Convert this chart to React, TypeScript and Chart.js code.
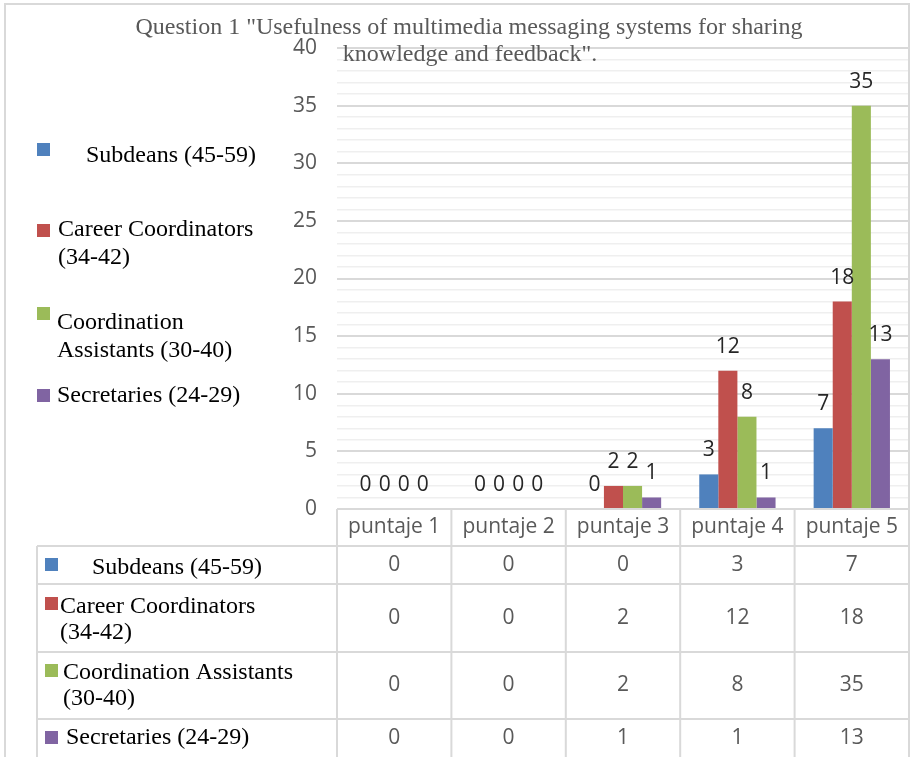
import { useEffect, useRef } from "react";
import { Chart, registerables } from "chart.js";

Chart.register(...registerables);

// Survey scores, grouped by respondent type
const categories = ["puntaje 1", "puntaje 2", "puntaje 3", "puntaje 4", "puntaje 5"];
const subdeans = [0, 0, 0, 3, 7];
const careerCoordinators = [0, 0, 2, 12, 18];
const coordinationAssistants = [0, 0, 2, 8, 35];
const secretaries = [0, 0, 1, 1, 13];

const seriesColors = ["#4f81bd", "#c0504d", "#9bbb59", "#8064a2"];
const legendLabels = [
  ["Subdeans (45-59)"],
  ["Career Coordinators", "(34-42)"],
  ["Coordination", "Assistants (30-40)"],
  ["Secretaries (24-29)"],
];
const tableLabels = [
  ["Subdeans (45-59)"],
  ["Career Coordinators", "(34-42)"],
  ["Coordination Assistants", "(30-40)"],
  ["Secretaries (24-29)"],
];
const titleLines = [
  'Question 1 "Usefulness of multimedia messaging systems for sharing',
  'knowledge and feedback".',
];

const yMin = 0;
const yMax = 40;
const yMajorStep = 5;

const serif = '"Liberation Serif", "Times New Roman", serif';
const sans = '"Open Sans", "Noto Sans", sans-serif';
const lineColor = "#d9d9d9";
const sansSize = 21;
const serifSize = 24;

// Legend entry layout (square top, text line centres, text x)
const legendLayout = [
  { sq: 143, lines: [156], tx: 86 },
  { sq: 224, lines: [230, 258], tx: 58 },
  { sq: 307, lines: [323, 351], tx: 57 },
  { sq: 389, lines: [396], tx: 57 },
];
// Data table rows (top, bottom, label line centres, label x, square top)
const tableRows = [
  { top: 546, bottom: 584, lines: [568], tx: 92, sq: 558 },
  { top: 584, bottom: 652, lines: [607, 633], tx: 60, sq: 597 },
  { top: 652, bottom: 719, lines: [673, 699], tx: 63, sq: 664 },
  { top: 719, bottom: 760, lines: [738], tx: 66, sq: 731 },
];
const tableLeft = 37;

const allSeries = [subdeans, careerCoordinators, coordinationAssistants, secretaries];

const decorPlugin = {
  id: "decor",
  afterDatasetsDraw(chart: any) {
    const ctx = chart.ctx;
    ctx.save();
    ctx.font = `${sansSize}px ${sans}`;
    ctx.fillStyle = "#262626";
    ctx.textAlign = "center";
    ctx.textBaseline = "middle";
    chart.data.datasets.forEach((ds: any, di: number) => {
      const meta = chart.getDatasetMeta(di);
      meta.data.forEach((bar: any, i: number) => {
        ctx.fillText(String(ds.data[i]), bar.x, bar.y - 24);
      });
    });
    ctx.restore();
  },
  afterDraw(chart: any) {
    const ctx = chart.ctx;
    const xs = chart.scales.x;
    const area = chart.chartArea;
    const n = categories.length;
    const catW = (area.right - area.left) / n;
    ctx.save();

    // Title
    ctx.font = `${serifSize}px ${serif}`;
    ctx.fillStyle = "#595959";
    ctx.textAlign = "center";
    ctx.textBaseline = "middle";
    ctx.fillText(titleLines[0], 469, 28);
    ctx.fillText(titleLines[1], 470, 55);

    // Legend
    ctx.textAlign = "left";
    legendLabels.forEach((lines, i) => {
      const l = legendLayout[i];
      ctx.fillStyle = seriesColors[i];
      ctx.fillRect(37, l.sq, 13, 13);
      ctx.fillStyle = "#000000";
      lines.forEach((t, j) => ctx.fillText(t, l.tx, l.lines[j]));
    });

    // Data table grid
    ctx.strokeStyle = lineColor;
    ctx.lineWidth = 2;
    const right = area.right;
    const headerTop = area.bottom;
    const headerBottom = tableRows[0].top;
    ctx.beginPath();
    for (let i = 0; i <= n; i++) {
      const x = i < n ? xs.getPixelForValue(i) - catW / 2 : xs.getPixelForValue(n - 1) + catW / 2;
      ctx.moveTo(x, headerTop);
      ctx.lineTo(x, 760);
    }
    ctx.moveTo(tableLeft, headerBottom);
    ctx.lineTo(tableLeft, 760);
    tableRows.forEach((r) => {
      ctx.moveTo(tableLeft, r.top);
      ctx.lineTo(right, r.top);
    });
    ctx.stroke();

    // Header labels
    ctx.font = `${sansSize}px ${sans}`;
    ctx.fillStyle = "#595959";
    ctx.textAlign = "center";
    categories.forEach((c, i) => {
      ctx.fillText(c, xs.getPixelForValue(i), (headerTop + headerBottom) / 2);
    });

    // Table rows
    tableRows.forEach((r, si) => {
      ctx.fillStyle = seriesColors[si];
      ctx.fillRect(45, r.sq, 13, 13);
      ctx.font = `${serifSize}px ${serif}`;
      ctx.fillStyle = "#000000";
      ctx.textAlign = "left";
      tableLabels[si].forEach((t, j) => ctx.fillText(t, r.tx, r.lines[j]));
      ctx.font = `${sansSize}px ${sans}`;
      ctx.fillStyle = "#595959";
      ctx.textAlign = "center";
      const cy = (r.top + Math.min(r.bottom, 757)) / 2;
      allSeries[si].forEach((v, i) => {
        ctx.fillText(String(v), xs.getPixelForValue(i), cy);
      });
    });

    // Outer frame
    ctx.strokeStyle = "#d9d9d9";
    ctx.lineWidth = 2;
    ctx.strokeRect(5, 4, 904, 800);
    ctx.restore();
  },
};

export default function App() {
  const ref = useRef<HTMLCanvasElement | null>(null);
  useEffect(() => {
    if (!ref.current) return;
    const chart = new Chart(ref.current, {
      type: "bar",
      data: {
        labels: categories,
        datasets: allSeries.map((data, i) => ({
          label: legendLabels[i].join(" "),
          data,
          backgroundColor: seriesColors[i],
          borderWidth: 0,
          categoryPercentage: 0.667,
          barPercentage: 1,
        })),
      },
      options: {
        responsive: false,
        animation: false,
        devicePixelRatio: 1,
        layout: { padding: { left: 0, right: 2, top: 48, bottom: 248 } },
        plugins: {
          legend: { display: false },
          title: { display: false },
          tooltip: { enabled: false },
        },
        scales: {
          x: { display: false },
          y: {
            min: yMin,
            max: yMax,
            afterFit(scale: any) {
              scale.width = 337;
            },
            border: { display: false },
            grid: {
              drawTicks: false,
              color: (c: any) => (c.tick && c.tick.value % yMajorStep === 0 ? "#d9d9d9" : "#efefef"),
              lineWidth: (c: any) => (c.tick && c.tick.value % yMajorStep === 0 ? 2 : 1.5),
            },
            ticks: {
              stepSize: 1,
              autoSkip: false,
              padding: 20,
              color: "#595959",
              font: { family: sans, size: sansSize },
              callback: (v: any) => (Number(v) % yMajorStep === 0 ? String(v) : ""),
            },
          },
        },
      },
      plugins: [decorPlugin],
    });
    return () => chart.destroy();
  }, []);
  return (
    <div style={{ position: "fixed", left: 0, top: 0, width: 911, height: 757, background: "#ffffff" }}>
      <canvas ref={ref} width={911} height={757} />
    </div>
  );
}
